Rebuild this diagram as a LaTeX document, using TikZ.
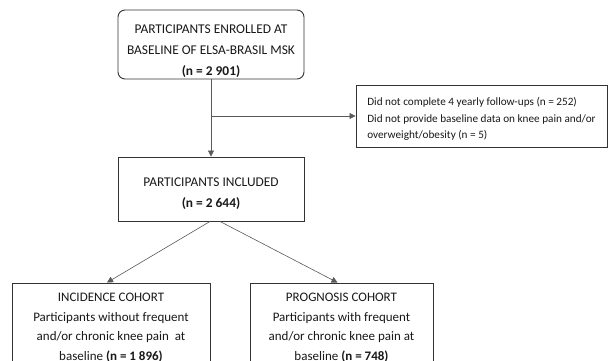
\documentclass[tikz,border=0pt]{standalone}
\usepackage{fontspec}
\setmainfont{Carlito}
\usetikzlibrary{arrows.meta}
\usetikzlibrary{positioning}
\tikzstyle{box}=[draw=black!80, line width=0.9pt, fill=white, align=center, inner sep=0pt, text=black!90, font=\fontsize{13.4}{21}\selectfont]
\tikzstyle{roundbox}=[box, rounded corners=7pt]
\tikzstyle{sidebox}=[box, align=left, font=\fontsize{11.2}{16.5}\selectfont]
\tikzstyle{cohort}=[box, font=\fontsize{13}{19.5}\selectfont]
\tikzstyle{link}=[-{Triangle[length=6pt,width=6pt]}, draw=black!65, line width=0.6pt]

\begin{document}
\begin{tikzpicture}[x=1pt, y=-1pt]

  \clip (0,0) rectangle (614,361);
  \fill[white] (0,0) rectangle (614,361);

  \node[roundbox, minimum width=186pt, minimum height=69pt] (enrolled) at (211,44.5)
     {\rule{0pt}{22.6pt}PARTICIPANTS ENROLLED AT\\BASELINE OF ELSA-BRASIL MSK\\\textbf{(n = 2 901)}};
  \node[sidebox, minimum width=251pt, minimum height=62pt] (excluded) at (481.5,116)
     {\rule{0pt}{14.8pt}Did not complete 4 yearly follow-ups (n = 252)\\Did not provide baseline data on knee pain and/or\\overweight/obesity (n = 5)};
  \node[box, minimum width=186pt, minimum height=64pt] (included) at (211,189)
     {\rule{0pt}{18.6pt}PARTICIPANTS INCLUDED\\\textbf{(n = 2 644)}};

  \node[cohort, minimum width=198pt, minimum height=90pt] (incidence) at (111,328)
     {INCIDENCE COHORT\\Participants without frequent\\and/or chronic knee pain~~at\\baseline \textbf{(n = 1 896)}};
  \node[cohort, minimum width=183pt, minimum height=90pt] (prognosis) at (341.5,328)
     {PROGNOSIS COHORT\\Participants with frequent\\and/or chronic knee pain at\\baseline \textbf{(n = 748)}};

  % flow
  \draw[link] (enrolled) -- (included);
  \coordinate (split) at (enrolled.south |- excluded.west);
  \draw[link] (split) -- (excluded.west);
  \foreach \dest/\off in {incidence/-1, prognosis/9}
      \draw[link] ([xshift=\off pt]included.south) -- ([xshift=-4pt]\dest.north);

\end{tikzpicture}
\end{document}
